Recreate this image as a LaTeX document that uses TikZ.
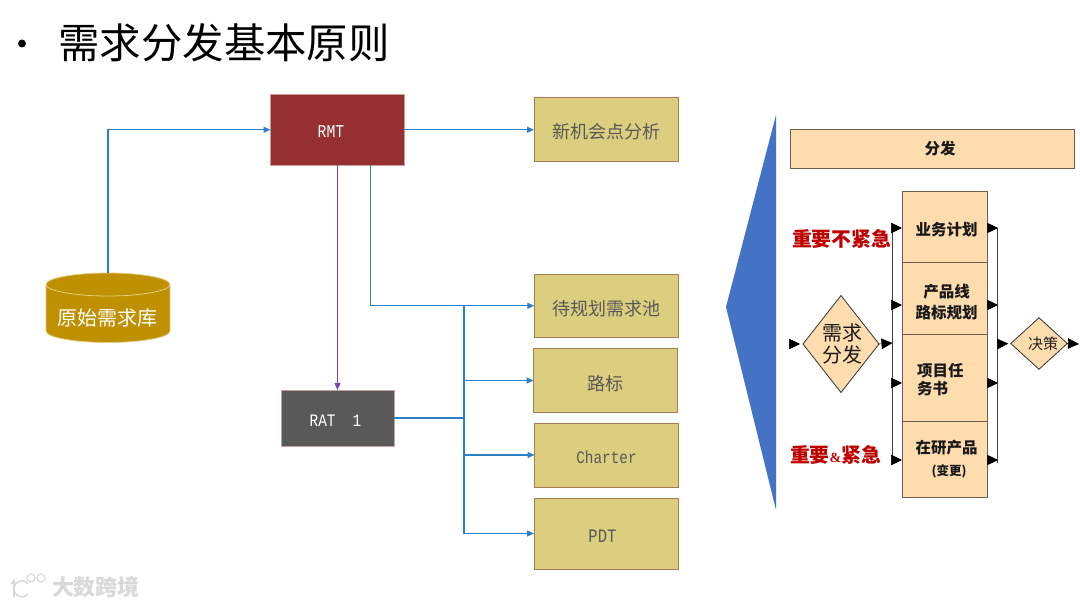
\documentclass[tikz,border=0pt]{standalone}
\usepackage{fontspec}
\setmainfont{Noto Sans CJK SC}
\newfontfamily\latinmono{Liberation Mono}
\newfontfamily\latinserif{Liberation Serif}
\usetikzlibrary{shapes.geometric,arrows.meta}
\definecolor{flowblue}{HTML}{2A80C2}
\definecolor{flowpurple}{HTML}{8040B0}
\definecolor{boxyellow}{HTML}{DBCE7E}
\definecolor{yellowedge}{HTML}{A67C52}
\definecolor{peach}{HTML}{FFDCAE}
\definecolor{peachedge}{HTML}{6B5F50}
\definecolor{greytext}{HTML}{595959}
\definecolor{alert}{HTML}{C00000}
\definecolor{wedge}{HTML}{4472C4}
\definecolor{gold}{HTML}{BF9000}
\definecolor{goldedge}{HTML}{E6CE85}
\definecolor{rmtred}{HTML}{963030}
\definecolor{ratgrey}{HTML}{595959}
\definecolor{softedge}{HTML}{C9A0A0}
\definecolor{wm}{HTML}{D9D9D9}
\newcommand{\fs}[1]{\fontsize{#1}{#1}\selectfont}
\newcommand{\low}[1]{\raisebox{-9.5pt}[0pt][0pt]{#1}}
\newcommand{\lowlat}[1]{\raisebox{-8.6pt}[0pt][0pt]{#1}}
\newcommand{\slim}[1]{\scalebox{0.82}[1]{#1}}
\tikzset{
  x=1pt,y=-1pt,
  txt/.style={inner sep=0pt,outer sep=0pt,align=center},
  darkbox/.style={draw=softedge,line width=0.8pt,inner sep=0pt,outer sep=0pt,text=white},
  yellowbox/.style={draw=yellowedge,fill=boxyellow,line width=1pt,inner sep=0pt,outer sep=0pt,text=greytext,font=\fs{18}},
  peachbox/.style={draw=peachedge,fill=peach,line width=0.8pt,inner sep=0pt,outer sep=0pt},
  peachdiamond/.style={diamond,draw=black!80,fill=peach,line width=0.8pt,inner sep=0pt,outer sep=0pt},
  flow/.style={draw=flowblue,line width=1.2pt,-{Triangle[length=7pt,width=6pt]}},
  flowplain/.style={draw=flowblue,line width=1.2pt},
  toflow/.style={draw=flowpurple,line width=1.1pt,-{Triangle[length=7pt,width=6pt]}},
  busline/.style={draw=black!75,line width=0.8pt},
  stub/.style={draw=black,line width=0.6pt,-{Triangle[length=11pt,width=10.5pt]}},
  redtext/.style={txt,text=alert,font=\bfseries\fs{19.8}},
  paneltext/.style={txt,font=\bfseries\fs{15.5},text=black!90},
}
\begin{document}
\begin{tikzpicture}
\useasboundingbox (0,0) rectangle (1080,607);
\fill[white] (0,0) rectangle (1080,607);

% title
\fill[black] (22,43.5) circle (4);
\node[txt,anchor=west,font=\fs{41.4}] (title) at (58.5,43) {需求分发基本原则};

% database cylinder
\fill[gold] (46,284.5) arc[start angle=180,end angle=360,x radius=62,y radius=11.5]
  -- (170,331) arc[start angle=0,end angle=180,x radius=62,y radius=11.5] -- cycle;
\draw[goldedge,line width=0.8pt] (46,284.5) arc[start angle=180,end angle=-180,x radius=62,y radius=11.5];
\draw[goldedge,line width=0.8pt] (46,284.5) -- (46,331) arc[start angle=180,end angle=0,x radius=62,y radius=11.5] -- (170,284.5);
\node[txt,minimum width=124pt,minimum height=70pt] (db) at (108,308) {};
\node[txt,text=white,font=\fs{20}] (dbtext) at (107,318) {原始需求库};

% left boxes
\node[darkbox,fill=rmtred,minimum width=133.5pt,minimum height=71.5pt] (rmt) at (337.25,129.75) {};
\node[txt,text=white,font=\latinmono\fs{18}] (rmttext) at (331,132) {\slim{RMT}};
\node[darkbox,fill=ratgrey,minimum width=113pt,minimum height=56pt] (rat) at (337.5,418) {};
\node[txt,text=white,font=\latinmono\fs{17.5}] (rattext) at (335.5,421) {\slim{RAT\ \ 1}};

\node[yellowbox,minimum width=144pt,minimum height=63.5pt] (newpt) at (606,129.5) {\low{新机会点分析}};
\node[yellowbox,minimum width=144pt,minimum height=63.5pt] (pool) at (606.25,305.75) {\low{待规划需求池}};
\node[yellowbox,minimum width=144pt,minimum height=64pt] (road) at (605.5,380.5) {\low{路标}};
\node[yellowbox,minimum width=144pt,minimum height=64pt,font=\latinmono\fs{17.5}] (charter) at (606.5,455) {\lowlat{\slim{Charter}}};
\node[yellowbox,minimum width=144pt,minimum height=71pt,font=\latinmono\fs{19}] (pdt) at (606,533.5) {\hspace*{-7pt}\lowlat{\slim{PDT}}};

% left connectors
\coordinate (rmtout) at (370.5,165.5);
\coordinate (rmtdown) at (337.5,165.5);
\coordinate (hub) at (464,418);
\coordinate (hubtop) at (464,306);
\draw[flow] (db.north) |- (rmt.west);
\draw[flow] (rmt.east) -- (newpt.west |- rmt.east);
\draw[flow] (rmtout) |- (pool.west);
\draw[toflow] (rmtdown) -- (rat.north -| rmtdown);
\draw[flowplain,line width=1.7pt] (rat.east) -- (hub);
\draw[flowplain] (hubtop) -- (hub);
\draw[flow] (hub) |- (road.west);
\draw[flow] (hub) |- (charter.west);
\draw[flow] (hub) |- (pdt.west);

% wedge
\fill[wedge] (776,115) -- (726,307) -- (776,510) -- cycle;

% right panel
\node[peachbox,minimum width=284pt,minimum height=39pt] (dist) at (932,148.5) {};
\node[paneltext] (distt) at (940,148.5) {分发};

\node[peachbox,minimum width=85.5pt,minimum height=70.5pt] (b1) at (944.75,226.75) {};
\node[peachbox,minimum width=85.5pt,minimum height=72.5pt] (b2) at (944.75,298.25) {};
\node[peachbox,minimum width=85.5pt,minimum height=86.5pt] (b3) at (944.75,377.75) {};
\node[peachbox,minimum width=85.5pt,minimum height=76pt] (b4) at (944.75,459) {};

\node[paneltext] (t1) at (946.5,230) {业务计划};
\node[paneltext] (t2) at (946.5,302) {产品线\\[5pt]路标规划};
\node[paneltext,anchor=west,align=left] (t3) at (917,379.5) {项目任\\[2pt]务书};
\node[paneltext] (t4a) at (946.5,447.5) {在研产品};
\node[paneltext,font=\bfseries\fs{12.5}] (t4b) at (949,471) {(变更)};

\node[peachdiamond,minimum width=76pt,minimum height=97pt] (d1) at (841,344) {};
\node[txt,font=\fs{20},text=black!90] (d1t) at (842,344) {需求\\[2pt]分发};
\node[peachdiamond,minimum width=56.5pt,minimum height=51.5pt] (d2) at (1039,343.5) {};
\node[txt,font=\fs{15},text=black!85] (d2t) at (1043,344) {决策};

\node[redtext] (red1) at (841.5,239) {重要不紧急};
\node[redtext] (red2) at (835.5,455) {重要{\latinserif\bfseries\fs{14}\&}紧急};

% buses
\coordinate (lbt) at (892.5,228);
\coordinate (lbb) at (892.5,460);
\coordinate (rbt) at (997.5,228);
\coordinate (rbb) at (997.5,463);
\coordinate (lb1) at (891,228);
\coordinate (lb2) at (891,305);
\coordinate (lb3) at (891,383);
\coordinate (lb4) at (891,460);
\coordinate (rb1) at (998,228);
\coordinate (rb2) at (998,305);
\coordinate (rb3) at (998,383);
\coordinate (rb4) at (998,460);
\coordinate (inp) at (789,344);
\coordinate (outp) at (1079,344);
\coordinate (lbm) at (892.5,343);
\coordinate (rbm) at (997,344);

\draw[busline] (lbt) -- (lbb);
\draw[busline] (rbt) -- (rbb);
\draw[stub] (lb1) -- (lb1 -| b1.west);
\draw[stub] (lb2) -- (lb2 -| b1.west);
\draw[stub] (lb3) -- (lb3 -| b1.west);
\draw[stub] (lb4) -- (lb4 -| b1.west);
\draw[stub] (rb1 -| b1.east) -- (rb1);
\draw[stub] (rb2 -| b1.east) -- (rb2);
\draw[stub] (rb3 -| b1.east) -- (rb3);
\draw[stub] (rb4 -| b1.east) -- (rb4);
\draw[stub,shorten >=3pt] (inp) -- (d1.west);
\draw[stub] (d1.east) -- (lbm);
\draw[stub,shorten >=2.5pt] (rbm) -- (d2.west);
\draw[stub] (d2.east) -- (outp);

% watermark
\draw[wm,line width=1.6pt] (11,584) -- (14,581) -- (14,597);
\draw[wm,line width=1.6pt] (28,594) arc[start angle=40,end angle=320,radius=8];
\draw[wm,line width=1.2pt] (31,578) circle (4);
\draw[wm,line width=1.2pt] (41,578) circle (4);
\node[txt,anchor=west,text=wm,font=\bfseries\fs{22}] (mark) at (52,587) {大数跨境};
\end{tikzpicture}
\end{document}
